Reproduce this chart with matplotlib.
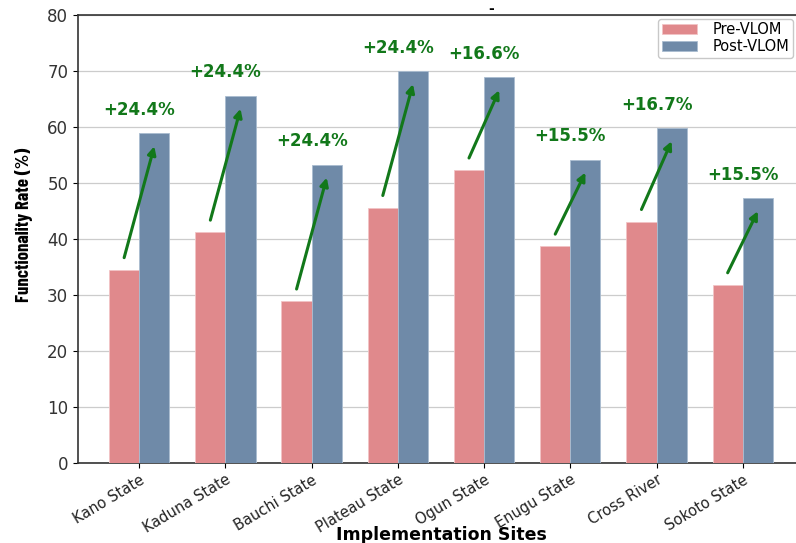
import numpy as np
import matplotlib

matplotlib.use('Agg')
import matplotlib.pyplot as plt
from matplotlib import font_manager

sites = ['Kano State', 'Kaduna State', 'Bauchi State', 'Plateau State',
         'Ogun State', 'Enugu State', 'Cross River', 'Sokoto State']
pre_vlom = [34.5, 41.2, 28.9, 45.6, 52.3, 38.7, 43.1, 31.8]
post_vlom = [58.9, 65.6, 53.3, 70.0, 68.9, 54.2, 59.8, 47.3]
gain_labels = ['+24.4%', '+24.4%', '+24.4%', '+24.4%',
               '+16.6%', '+15.5%', '+16.7%', '+15.5%']

pre_color = '#E0898C'
post_color = '#6F8AA8'
arrow_green = '#12781A'

# a condensed bold face for the y label if one is around
installed = {f.name for f in font_manager.fontManager.ttflist}
ylab_family = 'Barlow Condensed' if 'Barlow Condensed' in installed else 'DejaVu Sans'

fig = plt.figure(figsize=(7.96, 5.43), dpi=100)
ax = fig.add_axes([0.098, 0.147, 0.912, 0.825])

x = np.arange(len(sites))
w = 0.35
ax.bar(x - w / 2, pre_vlom, w, color=pre_color, edgecolor='#F2C4C5',
       linewidth=0.6, label='Pre-VLOM', zorder=3)
ax.bar(x + w / 2, post_vlom, w, color=post_color, edgecolor='#A9BCD0',
       linewidth=0.6, label='Post-VLOM', zorder=3)

# arrows from pre bar to post bar, with the gain written above
for i in range(len(sites)):
    ax.annotate('', xy=(x[i] + w / 2, post_vlom[i] - 2.3),
                xytext=(x[i] - w / 2, pre_vlom[i] + 2.2),
                arrowprops=dict(arrowstyle='-|>', color=arrow_green, lw=2.2,
                                mutation_scale=12, shrinkA=0, shrinkB=0),
                zorder=5)
    ax.text(x[i], post_vlom[i] + 4.2, gain_labels[i], ha='center', va='center',
            color=arrow_green, fontsize=12, fontweight='bold', zorder=6)

ax.set_xlim(-0.71, 7.71)
ax.set_ylim(0, 80)
ax.set_yticks(range(0, 81, 10))
ax.set_xticks(x)
ax.set_xticklabels(sites, rotation=31, ha='right', rotation_mode='anchor',
                   fontsize=10.5, color='#222222')
ax.tick_params(axis='y', labelsize=12, labelcolor='#333333')
ax.tick_params(axis='x', pad=3)

ax.grid(axis='y', color='#CCCCCC', linewidth=0.9, zorder=0)
ax.set_axisbelow(True)
for side in ['left', 'bottom', 'top']:
    ax.spines[side].set_color('#333333')
    ax.spines[side].set_linewidth(1.2)
ax.spines['right'].set_visible(False)

ax.set_ylabel('Functionality Rate (%)', fontsize=13.5, fontweight='bold',
              family=ylab_family)
ax.yaxis.set_label_coords(-0.062, 0.533)
ax.set_xlabel('Implementation Sites', fontsize=12.5, fontweight='bold')
ax.xaxis.set_label_coords(0.5, -0.141)

fig.text(491 / 796, 1 - 9 / 543, '-', ha='center', va='center',
         fontsize=10, fontweight='bold')

leg = ax.legend(loc='upper right', bbox_to_anchor=(0.99, 1.0), fontsize=10.5,
                frameon=True, borderaxespad=0.25, handlelength=2.4,
                labelspacing=0.1, borderpad=0.25, handletextpad=1.1)
leg.get_frame().set_edgecolor('#BBBBBB')

fig.savefig('out.png', dpi=100)
